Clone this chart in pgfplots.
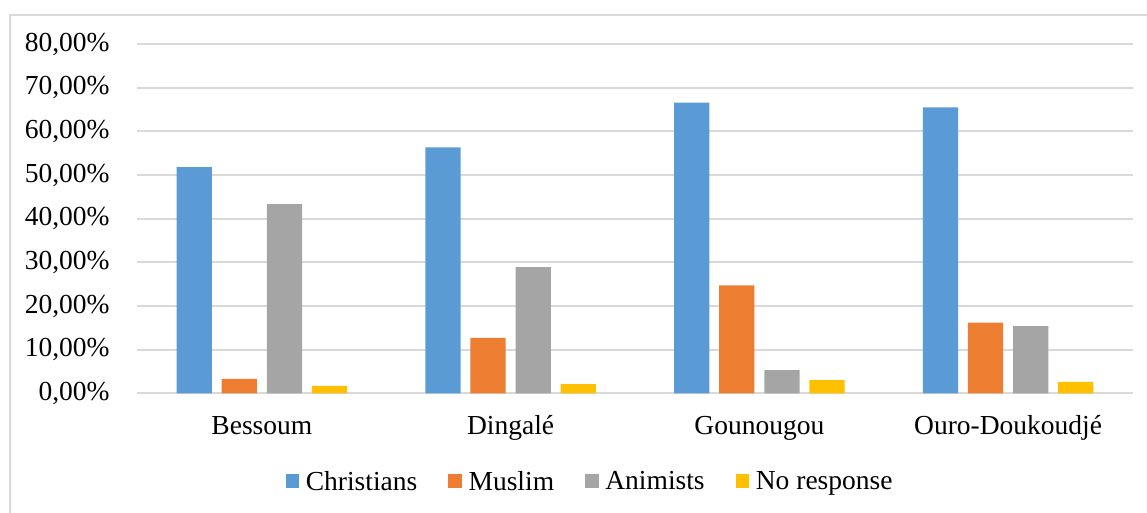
\documentclass[border=0pt]{standalone}
\usepackage{fontspec}
\setmainfont{Liberation Serif}
\usepackage{pgfplots}
\pgfplotsset{compat=1.18}
\definecolor{cblue}{HTML}{5B9BD5}
\definecolor{corange}{HTML}{ED7D31}
\definecolor{cgray}{HTML}{A5A5A5}
\definecolor{cgold}{HTML}{FFC000}
\definecolor{gridgray}{HTML}{D9D9D9}
\begin{document}
\begin{tikzpicture}
\begin{axis}[
  at={(0,0)}, anchor=south west,
  scale only axis,
  width=497.5pt, height=174.65pt,
  xmin=-0.5, xmax=3.5, ymin=0, ymax=80,
  axis line style={draw=none},
  axis x line*=bottom,
  major tick length=0pt,
  xtick={0,1,2,3},
  xticklabels={Bessoum, Dingalé, Gounougou, Ouro-Doukoudjé},
  ytick={0,10,20,30,40,50,60,70,80},
  yticklabels={{0,00\%},{10,00\%},{20,00\%},{30,00\%},{40,00\%},{50,00\%},{60,00\%},{70,00\%},{80,00\%}},
  ymajorgrids,
  major grid style={gridgray, line width=1pt},
  tick label style={font=\fontsize{13.75}{16}\selectfont, text=black},
  yticklabel style={inner sep=0pt, xshift=-13.75pt},
  xticklabel style={inner sep=0pt, anchor=base, yshift=-20.85pt},
  ybar, bar width=0.142,
  legend columns=4,
  legend style={draw=none, fill=none, inner sep=0pt,
    at={(axis description cs:0.1485,0)}, anchor=north west, yshift=-38.8pt,
    font=\fontsize{13.75}{16}\selectfont,
    nodes={inner sep=0pt},
    /tikz/every odd column/.append style={column sep=3.25pt},
    /tikz/every even column/.append style={column sep=15.5pt}},
  legend image code/.code={\fill[#1] (0pt,-2.65pt) rectangle (6.85pt,4.2pt);},
]
\addplot[fill=cblue, draw=none, bar shift=-0.272] coordinates {(0,51.8) (1,56.3) (2,66.6) (3,65.5)};
\addplot[fill=corange, draw=none, bar shift=-0.0907] coordinates {(0,3.3) (1,12.7) (2,24.7) (3,16.2)};
\addplot[fill=cgray, draw=none, bar shift=0.0907] coordinates {(0,43.3) (1,28.9) (2,5.3) (3,15.4)};
\addplot[fill=cgold, draw=none, bar shift=0.272] coordinates {(0,1.7) (1,2.1) (2,3.0) (3,2.6)};
\legend{Christians, Muslim, Animists, No response}
\end{axis}
\draw[gridgray, line width=0.75pt] (-63.75pt,-80pt) -- (-63.75pt,189.15pt) -- (540pt,189.15pt);
\pgfresetboundingbox
\useasboundingbox (-68.75pt,-59.85pt) rectangle (504.75pt,196.65pt);
\end{tikzpicture}
\end{document}
